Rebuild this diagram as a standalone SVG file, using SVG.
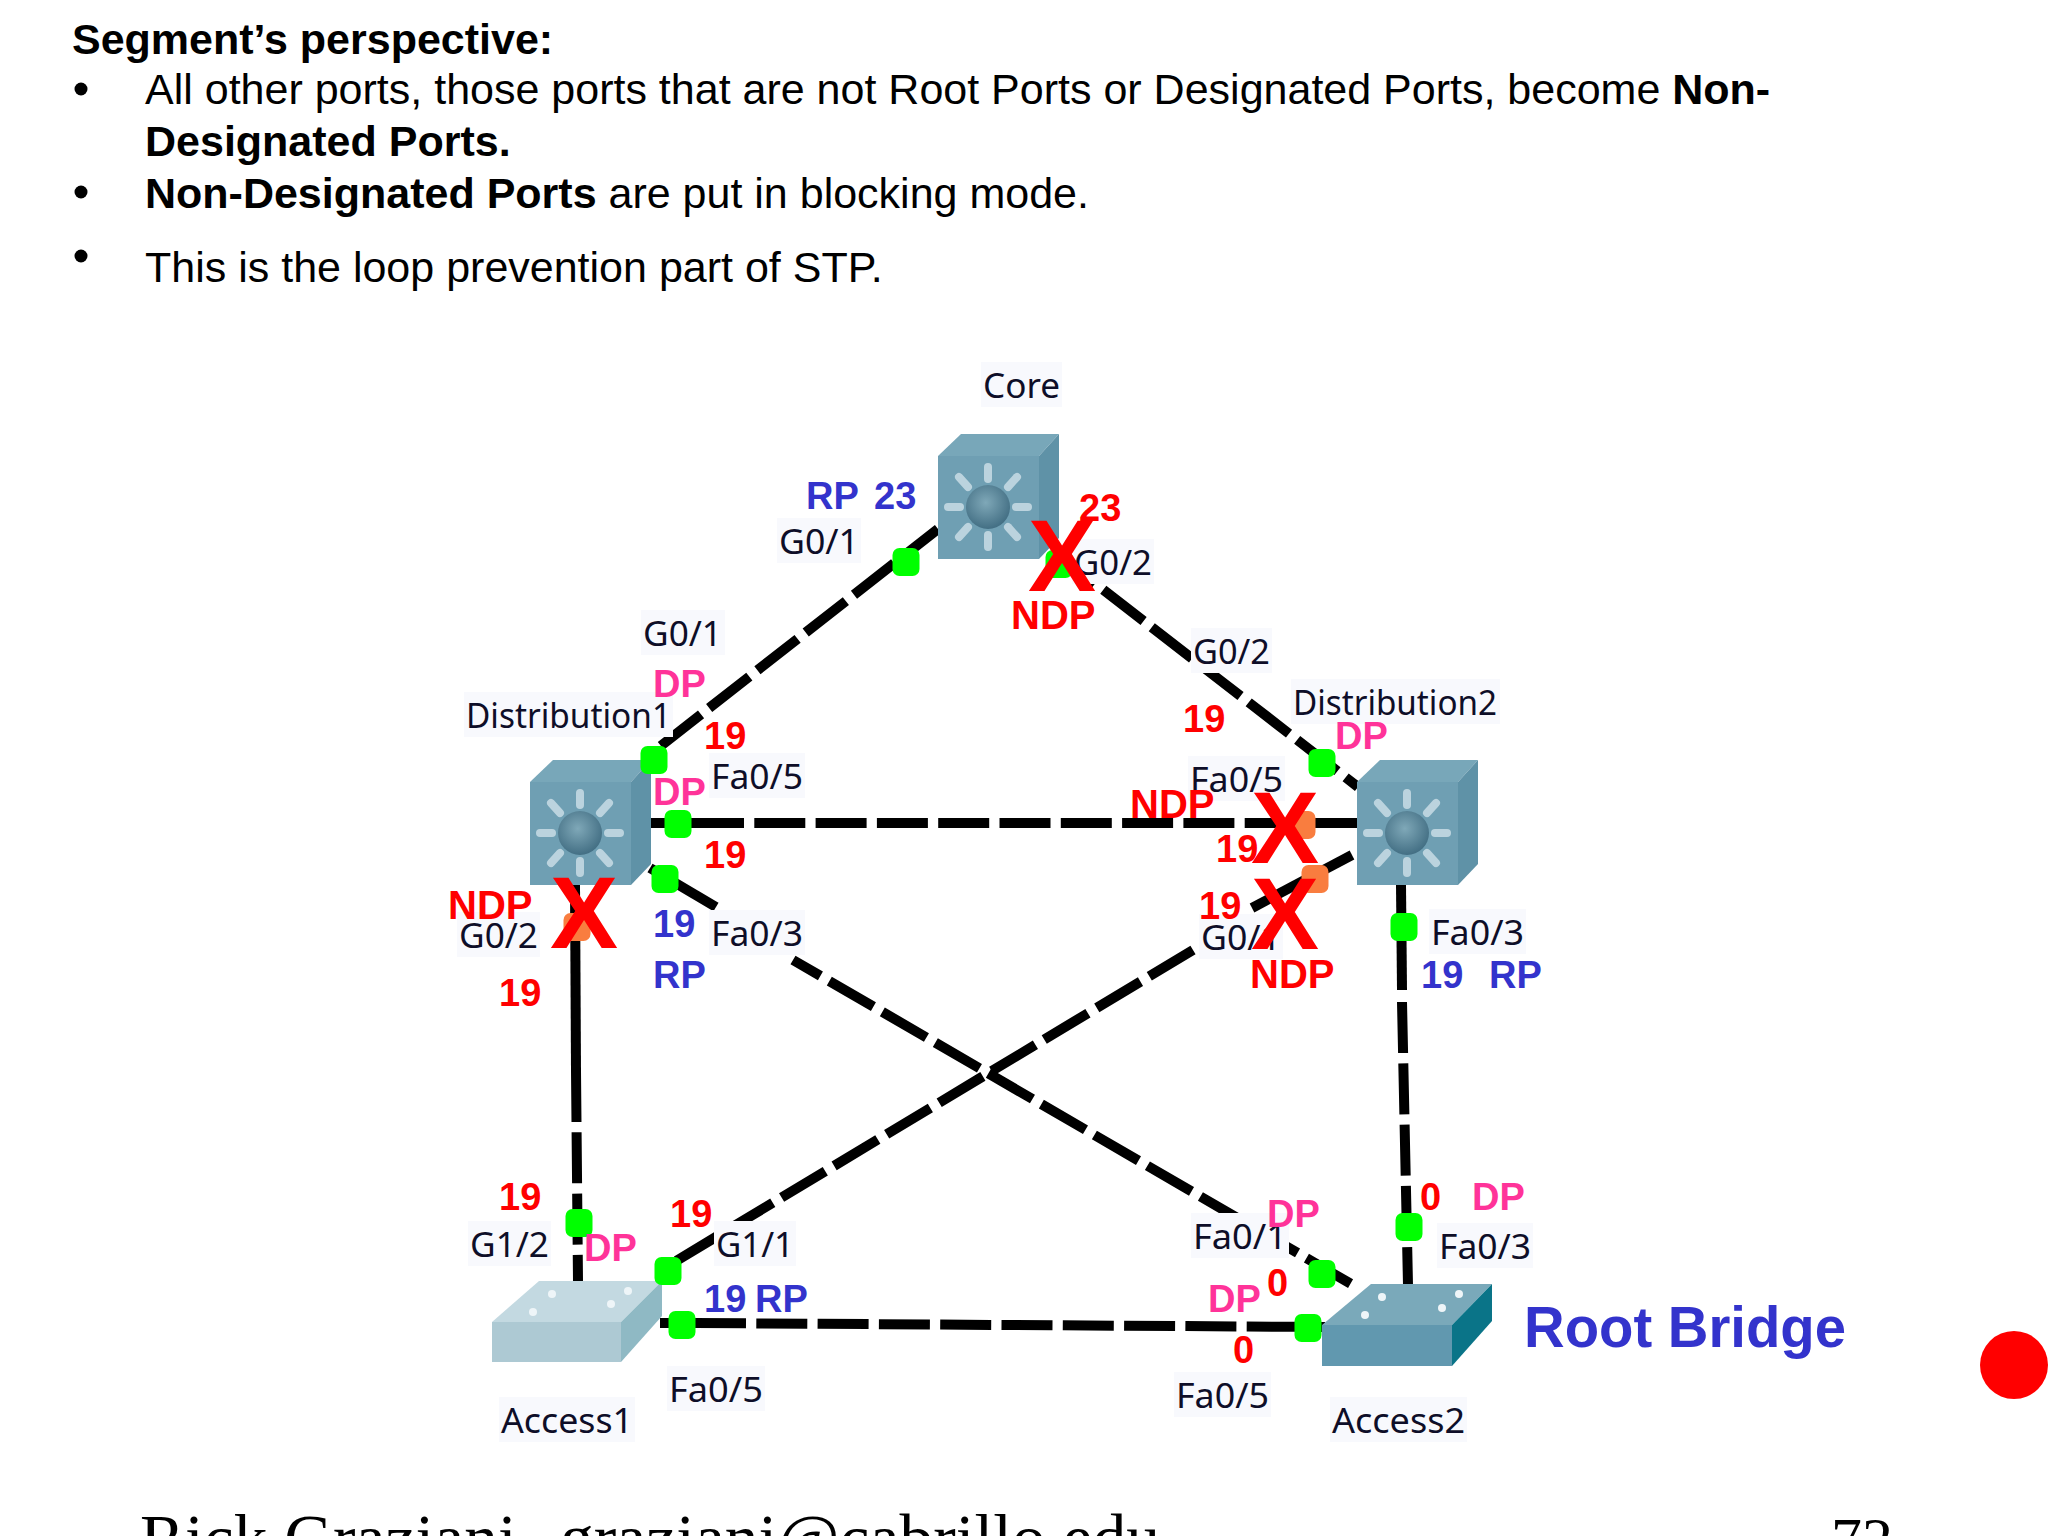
<svg xmlns="http://www.w3.org/2000/svg" width="2048" height="1536" viewBox="0 0 2048 1536">
<style>
.h{font-family:"Liberation Sans",Arial,sans-serif;font-size:43px;fill:#000}
.b{font-weight:bold}
.lnk{fill:none;stroke:#000;stroke-width:10}
.d{stroke-dasharray:51 10.3}
.pb{fill:#f8f9fd}
.pl{font-family:"Noto Sans",sans-serif;font-size:34px;fill:#0e0e28}
.m{font-family:"Liberation Sans",Arial,sans-serif;font-weight:bold;font-size:38px}
.n{font-size:40px}
.r{fill:#ff0000}.u{fill:#3333cc}.k{fill:#ff3399}
.x{font-family:"Liberation Sans",Arial,sans-serif;font-weight:bold;font-size:102px;fill:#ff0000;text-anchor:middle}
.g{fill:#00ff00}.o{fill:#f97d3f}
.sp{stroke:#c9dde6;stroke-width:8;stroke-linecap:round;opacity:.85}
.dot{fill:#eef5f8}
.ft{font-family:"Liberation Serif","Times New Roman",serif;font-size:67.5px;fill:#000}
</style>
<defs>
<radialGradient id="sph" cx="45%" cy="40%" r="60%"><stop offset="0" stop-color="#7fa8b8"/><stop offset="1" stop-color="#436f84"/></radialGradient>
<g id="ml">
<rect x="0" y="22" width="101" height="103" fill="#6f9fb3"/>
<polygon points="0,22 23,0 121,0 101,22" fill="#78a7b9"/>
<polygon points="101,22 121,0 121,104 101,125" fill="#5f92a7"/>
<g class="sp">
<line x1="50" y1="45" x2="50" y2="33"/><line x1="50" y1="101" x2="50" y2="113"/>
<line x1="22" y1="73" x2="10" y2="73"/><line x1="78" y1="73" x2="90" y2="73"/>
<line x1="30" y1="53" x2="21" y2="43"/><line x1="70" y1="53" x2="79" y2="43"/>
<line x1="30" y1="93" x2="21" y2="103"/><line x1="70" y1="93" x2="79" y2="103"/>
</g>
<circle cx="50" cy="73" r="22" fill="url(#sph)"/>
</g>
<rect id="pt" x="-13.5" y="-14" width="27" height="28" rx="7"/>
</defs>
<rect width="2048" height="1536" fill="#fff"/>

<g id="header">
<text class="h b" x="72" y="54">Segment’s perspective:</text>
<text class="h" x="145" y="104">All other ports, those ports that are not Root Ports or Designated Ports, become <tspan class="b">Non-</tspan></text>
<text class="h b" x="145" y="156">Designated Ports.</text>
<text class="h" x="145" y="208"><tspan class="b">Non-Designated Ports</tspan> are put in blocking mode.</text>
<text class="h" x="145" y="282">This is the loop prevention part of STP.</text>
<circle cx="81" cy="89" r="6.5"/><circle cx="81" cy="192" r="6.5"/><circle cx="81" cy="256" r="6.5"/>
</g>

<g id="connectors">
<line class="lnk d" stroke-dashoffset="-10" x1="653" y1="752" x2="938" y2="529"/>
<line class="lnk d" stroke-dashoffset="-20" x1="1039" y1="540" x2="1358" y2="787"/>
<line class="lnk" x1="651" y1="823" x2="693" y2="823"/>
<line class="lnk d" x1="693" y1="823" x2="1245" y2="823"/>
<line class="lnk" x1="1245" y1="823" x2="1357" y2="823"/>
<line class="lnk" x1="650" y1="868" x2="716" y2="907"/>
<line class="lnk d" stroke-dashoffset="19.3" x1="793" y1="960" x2="1358" y2="1288"/>
<line class="lnk" x1="1352" y1="855" x2="1252" y2="908"/>
<line class="lnk d" x1="1193" y1="950" x2="666" y2="1267"/>
<line class="lnk" x1="575" y1="885" x2="576" y2="1071"/>
<line class="lnk d" x1="576" y1="1071" x2="578" y2="1281"/>
<line class="lnk" x1="1401" y1="885" x2="1402" y2="990"/>
<line class="lnk d" x1="1402" y1="1002" x2="1408" y2="1285"/>
<line class="lnk d" x1="695" y1="1323" x2="1325" y2="1327"/>
<line class="lnk" x1="660" y1="1323" x2="695" y2="1323"/>
</g>

<g id="Core"><use href="#ml" x="938" y="434"/><rect class="pb" x="981" y="362" width="81" height="45"/><text class="pl" x="983" y="398" textLength="77" lengthAdjust="spacingAndGlyphs">Core</text></g>
<g id="Distribution1"><use href="#ml" x="530" y="760"/><rect class="pb" x="464" y="692" width="209" height="45"/><text class="pl" x="466" y="728" textLength="205" lengthAdjust="spacingAndGlyphs">Distribution1</text></g>
<g id="Distribution2"><use href="#ml" x="1357" y="760"/><rect class="pb" x="1291" y="679" width="209" height="45"/><text class="pl" x="1293" y="715" textLength="204" lengthAdjust="spacingAndGlyphs">Distribution2</text></g>
<g id="Access1">
<rect x="492" y="1322" width="129" height="40" fill="#adc9d3"/>
<polygon points="492,1322 539,1281 662,1281 621,1322" fill="#c3d9e1"/>
<polygon points="621,1322 662,1281 662,1316 621,1362" fill="#8fb9c4"/>
<circle class="dot" cx="552" cy="1294" r="4"/><circle class="dot" cx="628" cy="1291" r="4"/><circle class="dot" cx="533" cy="1312" r="4"/><circle class="dot" cx="611" cy="1304" r="4"/>
<rect class="pb" x="499" y="1397" width="136" height="45"/><text class="pl" x="501" y="1433" textLength="132" lengthAdjust="spacingAndGlyphs">Access1</text>
</g>
<g id="Access2">
<rect x="1322" y="1325" width="130" height="41" fill="#6198af"/>
<polygon points="1322,1325 1371,1284 1492,1284 1452,1325" fill="#7aa9ba"/>
<polygon points="1452,1325 1492,1284 1492,1321 1452,1366" fill="#0a7488"/>
<circle class="dot" cx="1382" cy="1297" r="4"/><circle class="dot" cx="1459" cy="1294" r="4"/><circle class="dot" cx="1365" cy="1315" r="4"/><circle class="dot" cx="1442" cy="1308" r="4"/>
<rect class="pb" x="1330" y="1397" width="137" height="45"/><text class="pl" x="1332" y="1433" textLength="133" lengthAdjust="spacingAndGlyphs">Access2</text>
</g>

<g id="port-labels">
<rect class="pb" x="777" y="518" width="84" height="45"/><text class="pl" x="779" y="554" textLength="80" lengthAdjust="spacingAndGlyphs">G0/1</text>
<rect class="pb" x="641" y="610" width="84" height="45"/><text class="pl" x="643" y="646" textLength="79" lengthAdjust="spacingAndGlyphs">G0/1</text>
<rect class="pb" x="709" y="753" width="96" height="45"/><text class="pl" x="711" y="789" textLength="92" lengthAdjust="spacingAndGlyphs">Fa0/5</text>
<rect class="pb" x="709" y="910" width="96" height="45"/><text class="pl" x="711" y="946" textLength="92" lengthAdjust="spacingAndGlyphs">Fa0/3</text>
<rect class="pb" x="457" y="912" width="83" height="45"/><text class="pl" x="459" y="948" textLength="79" lengthAdjust="spacingAndGlyphs">G0/2</text>
<rect class="pb" x="1072" y="539" width="82" height="45"/><text class="pl" x="1074" y="575" textLength="78" lengthAdjust="spacingAndGlyphs">G0/2</text>
<rect class="pb" x="1191" y="628" width="81" height="45"/><text class="pl" x="1193" y="664" textLength="77" lengthAdjust="spacingAndGlyphs">G0/2</text>
<rect class="pb" x="1188" y="756" width="97" height="45"/><text class="pl" x="1190" y="792" textLength="93" lengthAdjust="spacingAndGlyphs">Fa0/5</text>
<rect class="pb" x="1429" y="909" width="97" height="45"/><text class="pl" x="1431" y="945" textLength="93" lengthAdjust="spacingAndGlyphs">Fa0/3</text>
<rect class="pb" x="1199" y="914" width="84" height="45"/><text class="pl" x="1201" y="950" textLength="80" lengthAdjust="spacingAndGlyphs">G0/1</text>
<rect class="pb" x="468" y="1221" width="83" height="45"/><text class="pl" x="470" y="1257" textLength="79" lengthAdjust="spacingAndGlyphs">G1/2</text>
<rect class="pb" x="714" y="1221" width="82" height="45"/><text class="pl" x="716" y="1257" textLength="78" lengthAdjust="spacingAndGlyphs">G1/1</text>
<rect class="pb" x="667" y="1366" width="98" height="45"/><text class="pl" x="669" y="1402" textLength="94" lengthAdjust="spacingAndGlyphs">Fa0/5</text>
<rect class="pb" x="1191" y="1213" width="98" height="45"/><text class="pl" x="1193" y="1249" textLength="94" lengthAdjust="spacingAndGlyphs">Fa0/1</text>
<rect class="pb" x="1437" y="1223" width="96" height="45"/><text class="pl" x="1439" y="1259" textLength="92" lengthAdjust="spacingAndGlyphs">Fa0/3</text>
<rect class="pb" x="1174" y="1372" width="97" height="45"/><text class="pl" x="1176" y="1408" textLength="93" lengthAdjust="spacingAndGlyphs">Fa0/5</text>
</g>

<g id="ports">
<use href="#pt" class="g" x="906" y="562"/><use href="#pt" class="g" x="1059" y="564"/>
<use href="#pt" class="g" x="654" y="760"/><use href="#pt" class="g" x="678" y="824"/><use href="#pt" class="g" x="665" y="879"/>
<use href="#pt" class="g" x="1322" y="763"/><use href="#pt" class="g" x="1404" y="927"/>
<use href="#pt" class="g" x="579" y="1223"/><use href="#pt" class="g" x="668" y="1271"/><use href="#pt" class="g" x="682" y="1325"/>
<use href="#pt" class="g" x="1322" y="1274"/><use href="#pt" class="g" x="1409" y="1227"/><use href="#pt" class="g" x="1308" y="1328"/>
<use href="#pt" class="o" x="577" y="927"/><use href="#pt" class="o" x="1302" y="825"/><use href="#pt" class="o" x="1315" y="879"/>
</g>

<g id="annotations">
<text class="m u" x="806" y="509">RP</text><text class="m u" x="874" y="509">23</text>
<text class="m r" x="1079" y="521">23</text><text class="m r n" x="1011" y="629">NDP</text>
<text class="m k" x="653" y="697">DP</text><text class="m k" x="653" y="805">DP</text>
<text class="m r" x="704" y="749">19</text><text class="m r" x="704" y="868">19</text>
<text class="m u" x="653" y="937">19</text><text class="m u" x="653" y="988">RP</text>
<text class="m r n" x="448" y="919">NDP</text><text class="m r" x="499" y="1006">19</text>
<text class="m r" x="1183" y="732">19</text><text class="m k" x="1335" y="749">DP</text>
<text class="m r n" x="1130" y="818">NDP</text><text class="m r" x="1216" y="862">19</text>
<text class="m r" x="1199" y="919">19</text><text class="m r n" x="1250" y="988">NDP</text>
<text class="m u" x="1421" y="988">19</text><text class="m u" x="1489" y="988">RP</text>
<text class="m r" x="499" y="1210">19</text><text class="m k" x="584" y="1261">DP</text>
<text class="m r" x="670" y="1227">19</text><text class="m u" x="704" y="1312">19</text><text class="m u" x="755" y="1312">RP</text>
<text class="m k" x="1267" y="1227">DP</text><text class="m r" x="1267" y="1296">0</text>
<text class="m k" x="1208" y="1312">DP</text><text class="m r" x="1233" y="1363">0</text>
<text class="m r" x="1420" y="1210">0</text><text class="m k" x="1472" y="1210">DP</text>
<text class="x" x="1062" y="591">X</text><text class="x" x="584" y="948">X</text>
<text class="x" x="1285" y="863">X</text><text class="x" x="1285" y="949">X</text>
<text x="1524" y="1347" font-family="'Liberation Sans',Arial,sans-serif" font-weight="bold" font-size="57" fill="#3333cc" textLength="322" lengthAdjust="spacingAndGlyphs">Root Bridge</text>
</g>

<ellipse cx="2014" cy="1365" rx="34" ry="34" fill="#ff0000"/>
<g id="footer">
<text class="ft" x="140" y="1561">Rick Graziani <tspan x="560">graziani@cabrillo.edu</tspan></text>
<text class="ft" style="font-size:62px" x="1831" y="1560">72</text>
</g>
</svg>
